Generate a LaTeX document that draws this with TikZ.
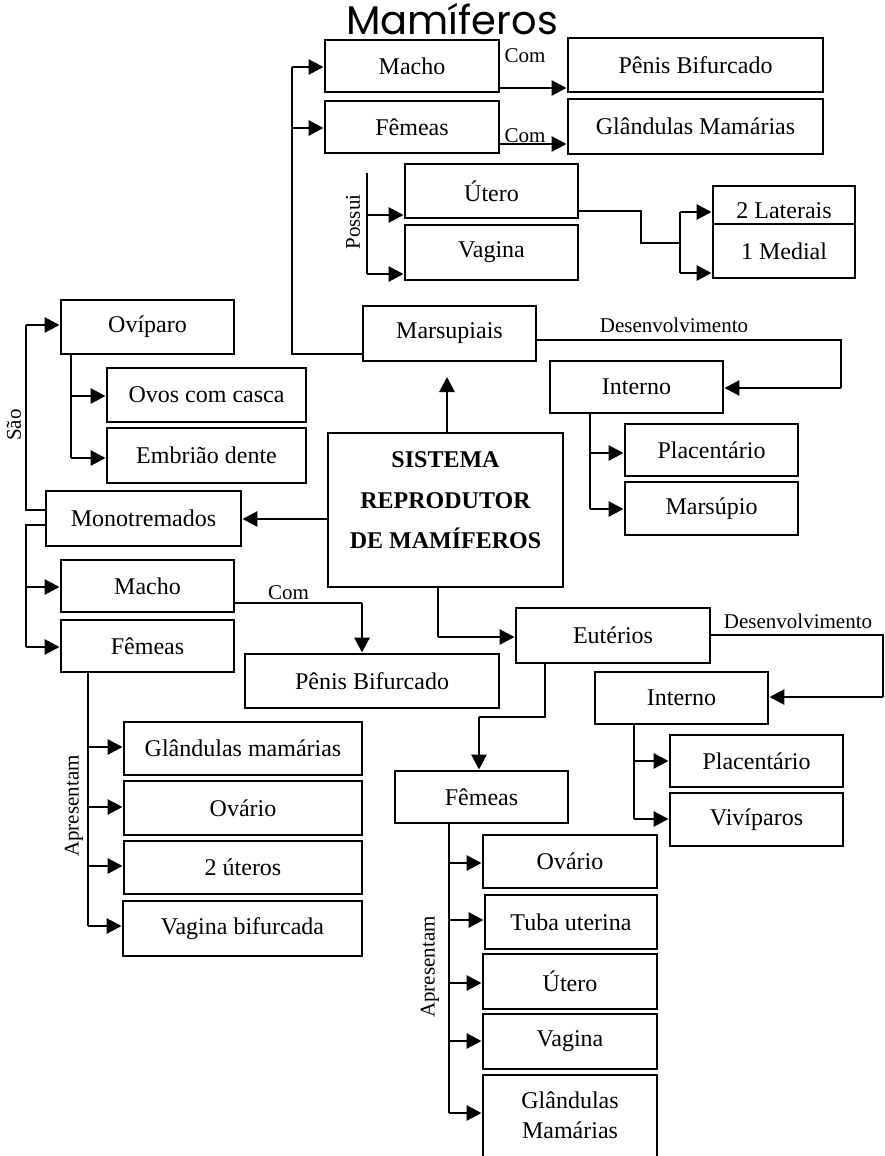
\documentclass[tikz,border=0pt]{standalone}
\usepackage{fontspec}
\setmainfont{Liberation Serif}
\newfontfamily\titlefont{Poppins}
\usetikzlibrary{arrows.meta}
\tikzset{
  box/.style={draw, line width=2.9pt, inner sep=0pt, font=\fontsize{24}{28}\selectfont},
  thinline/.style={line width=1.4pt},
  arr/.style={line width=2.9pt, -{Triangle[length=15pt,width=15pt]}},
  lbl/.style={font=\fontsize{21}{24}\selectfont, inner sep=0pt},
  txt/.style={font=\fontsize{24}{28}\selectfont, inner sep=0pt},
  btxt/.style={font=\bfseries\fontsize{24}{28}\selectfont, inner sep=0pt},
}
\newcommand{\bx}[6]{\node[box, minimum width={(#4)-(#2)}, minimum height={(#5)-(#3)}] (#1) at ({((#2)+(#4))/2},{((#3)+(#5))/2}) {#6};}
\begin{document}
\begin{tikzpicture}[x=1pt,y=-1pt]
\path[use as bounding box, fill=white] (0,0) rectangle (885,1156);
\clip (0,0) rectangle (885,1156);

% title
\node[inner sep=0pt, anchor=base, text depth=0pt, font=\titlefont\fontsize{40}{44}\selectfont] (title) at (452,35) {Mamíferos};

% boxes - marsupiais branch
\bx{tMacho}{325}{40}{499}{92}{Macho}
\bx{tPenis}{568}{38}{823}{92}{Pênis Bifurcado}
\bx{tFem}{325}{101}{499}{153}{Fêmeas}
\bx{tGland}{568}{99}{823}{154}{Glândulas Mamárias}
\bx{utero}{405}{164}{578}{218}{Útero}
\bx{vagina}{405}{225}{578}{280}{Vagina}
\bx{lat}{713}{186}{855}{224}{}
\node[txt, anchor=base] (latT) at (784,218) {2 Laterais};
\bx{med}{713}{224}{855}{278}{1 Medial}
\bx{mars}{363}{306}{536}{361}{Marsupiais}
\bx{intM}{550}{361}{723}{413}{Interno}
\bx{placM}{625}{424}{798}{476}{Placentário}
\bx{marsup}{625}{482}{798}{535}{Marsúpio}

% central box
\bx{sis}{328}{433}{563}{587}{}
\node[btxt, anchor=base] (sisA) at (445.5,467) {SISTEMA};
\node[btxt, anchor=base] (sisB) at (445.5,508) {REPRODUTOR};
\node[btxt, anchor=base] (sisC) at (445.5,548) {DE MAMÍFEROS};

% monotremados branch
\bx{mono}{46}{491}{241}{546}{Monotremados}
\bx{ovip}{61}{300}{234}{354}{Ovíparo}
\bx{ovos}{107}{368}{306}{422}{Ovos com casca}
\bx{embr}{107}{428}{306}{483}{Embrião dente}
\bx{mMacho}{61}{560}{234}{612}{Macho}
\bx{mFem}{61}{620}{234}{672}{Fêmeas}
\bx{mPenis}{245}{654}{499}{708}{Pênis Bifurcado}
\bx{mGland}{124}{722}{362}{775}{Glândulas mamárias}
\bx{mOvar}{124}{781}{362}{835}{Ovário}
\bx{mUter}{124}{841}{362}{894}{2 úteros}
\bx{mVag}{123}{901}{362}{956}{Vagina bifurcada}

% euterios branch
\bx{eut}{516}{608}{710}{663}{Eutérios}
\bx{intE}{595}{672}{768}{724}{Interno}
\bx{placE}{670}{735}{843}{787}{Placentário}
\bx{viv}{670}{793}{843}{846}{Vivíparos}
\bx{eFem}{395}{771}{568}{823}{Fêmeas}
\bx{eOvar}{483}{835}{657}{888}{Ovário}
\bx{eTuba}{485}{895}{657}{949}{Tuba uterina}
\bx{eUter}{483}{954}{657}{1009}{Útero}
\bx{eVag}{483}{1014}{657}{1069}{Vagina}
\bx{eGland}{483}{1075}{657}{1180}{}
\node[txt, anchor=base] (eGlandA) at (570,1108) {Glândulas};
\node[txt, anchor=base] (eGlandB) at (570,1138) {Mamárias};

% ---- connectors: marsupiais
\coordinate (s1) at (292,67);
\coordinate (s2) at (292,128);
\coordinate (s3) at (292,354);
\draw[thinline] (s1) -- (s3) -- (mars.west |- s3);
\draw[arr] (s1) -- (tMacho.west |- s1);
\draw[arr] (s2) -- (tFem.west |- s2);

\coordinate (c1) at (499,88);
\coordinate (c2) at (499,144);
\draw[arr] (tMacho.east |- c1) -- (tPenis.west |- c1);
\draw[arr] (tFem.east |- c2) -- (tGland.west |- c2);
\node[lbl, anchor=base] (com1) at (525,63) {Com};
\node[lbl, anchor=base] (com2) at (525,142) {Com};

\coordinate (p0) at (367,173);
\coordinate (p1) at (367,215);
\coordinate (p2) at (367,274);
\draw[thinline] (p0) -- (p2);
\draw[arr] (p1) -- (utero.west |- p1);
\draw[arr] (p2) -- (vagina.west |- p2);
\node[lbl, rotate=90] (possui) at (353,222) {Possui};

\coordinate (u1) at (641,211);
\coordinate (u2) at (641,243);
\coordinate (u3) at (680,243);
\coordinate (u4) at (680,212);
\coordinate (u5) at (680,273);
\draw[thinline] (utero.east |- u1) -- (u1) -- (u2) -- (u3);
\draw[thinline] (u4) -- (u5);
\draw[arr] (u4) -- (lat.west |- u4);
\draw[arr] (u5) -- (med.west |- u5);

\coordinate (d1) at (841,340);
\coordinate (d2) at (841,388);
\draw[thinline] (mars.east |- d1) -- (d1) -- (d2);
\draw[arr] (d2) -- (intM.east |- d2);
\node[lbl, anchor=base] (des1) at (674,332) {Desenvolvimento};

\coordinate (m1) at (590,453);
\coordinate (m2) at (590,509);
\draw[thinline] (intM.south -| m1) -- (m2);
\draw[arr] (m1) -- (placM.west |- m1);
\draw[arr] (m2) -- (marsup.west |- m2);

\coordinate (up) at (447,377);
\draw[arr] (sis.north -| up) -- (up);

% ---- connectors: monotremados
\coordinate (sm) at (328,519);
\draw[arr] (sis.west |- sm) -- (mono.east |- sm);

\coordinate (a1) at (26,510);
\coordinate (a2) at (26,325);
\draw[thinline] (mono.west |- a1) -- (a1) -- (a2);
\draw[arr] (a2) -- (ovip.west |- a2);
\node[lbl, rotate=90] (sao) at (14,425) {São};

\coordinate (o1) at (71,396);
\coordinate (o2) at (71,458);
\draw[thinline] (ovip.south -| o1) -- (o2);
\draw[arr] (o1) -- (ovos.west |- o1);
\draw[arr] (o2) -- (embr.west |- o2);

\coordinate (b0) at (26,525);
\coordinate (b1) at (26,587);
\coordinate (b2) at (26,647);
\draw[thinline] (mono.west |- b0) -- (b0) -- (b2);
\draw[arr] (b1) -- (mMacho.west |- b1);
\draw[arr] (b2) -- (mFem.west |- b2);

\coordinate (k1) at (362,603);
\draw[thinline] (mMacho.east |- k1) -- (k1);
\draw[arr] (k1) -- (mPenis.north -| k1);
\node[lbl, anchor=base] (com3) at (288.5,599) {Com};

\coordinate (f1) at (88,747);
\coordinate (f2) at (88,807);
\coordinate (f3) at (88,866);
\coordinate (f4) at (88,926);
\draw[thinline] (mFem.south -| f1) -- (f4);
\draw[arr] (f1) -- (mGland.west |- f1);
\draw[arr] (f2) -- (mOvar.west |- f2);
\draw[arr] (f3) -- (mUter.west |- f3);
\draw[arr] (f4) -- (mVag.west |- f4);
\node[lbl, rotate=90] (apr1) at (74,806) {Apresentam};

% ---- connectors: euterios
\coordinate (e0) at (438,637);
\draw[thinline] (sis.south -| e0) -- (e0);
\draw[arr] (e0) -- (eut.west |- e0);

\coordinate (g1) at (883,635);
\coordinate (g2) at (883,697);
\draw[thinline] (eut.east |- g1) -- (g1) -- (g2);
\draw[arr] (g2) -- (intE.east |- g2);
\node[lbl, anchor=base] (des2) at (798,628) {Desenvolvimento};

\coordinate (h1) at (634,761);
\coordinate (h2) at (634,819);
\draw[thinline] (intE.south -| h1) -- (h2);
\draw[arr] (h1) -- (placE.west |- h1);
\draw[arr] (h2) -- (viv.west |- h2);

\coordinate (j1) at (545,717);
\coordinate (j2) at (479,717);
\draw[thinline] (eut.south -| j1) -- (j1) -- (j2);
\draw[arr] (j2) -- (eFem.north -| j2);

\coordinate (q1) at (449,863);
\coordinate (q2) at (449,920);
\coordinate (q3) at (449,983);
\coordinate (q4) at (449,1041);
\coordinate (q5) at (449,1113);
\draw[thinline] (eFem.south -| q1) -- (q5);
\draw[arr] (q1) -- (eOvar.west |- q1);
\draw[arr] (q2) -- (eTuba.west |- q2);
\draw[arr] (q3) -- (eUter.west |- q3);
\draw[arr] (q4) -- (eVag.west |- q4);
\draw[arr] (q5) -- (eGland.west |- q5);
\node[lbl, rotate=90] (apr2) at (430,967) {Apresentam};
\end{tikzpicture}
\end{document}
